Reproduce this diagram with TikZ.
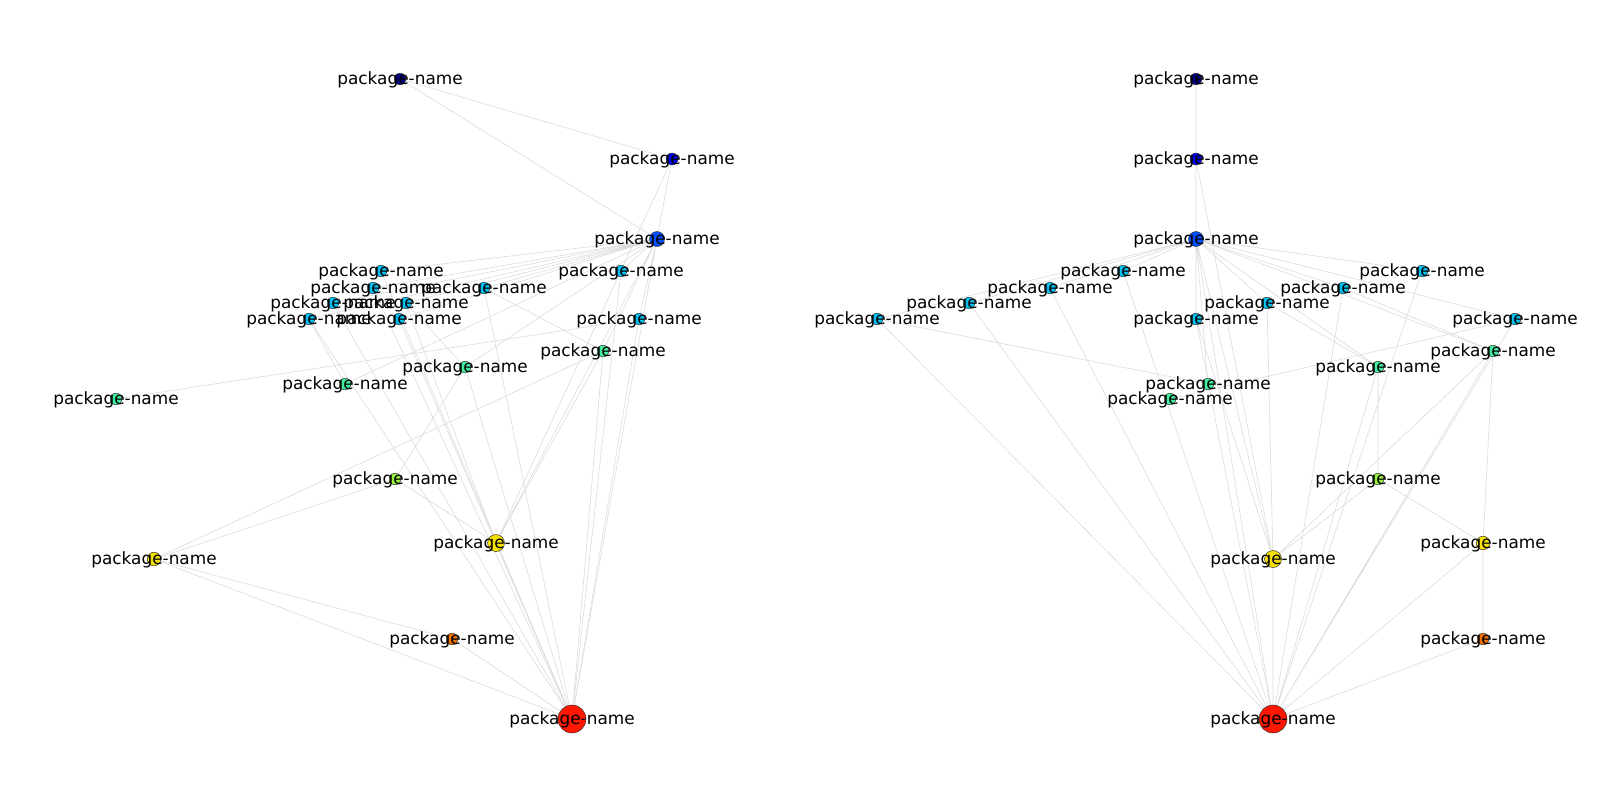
\documentclass[tikz,border=0pt]{standalone}
\usepackage{fontspec}
\newfontfamily\pkgfont{DejaVu Sans}
\usetikzlibrary{backgrounds}

\definecolor{lvlnavy}{HTML}{000080}
\definecolor{lvlblue}{HTML}{0000E6}
\definecolor{lvlroyal}{HTML}{0050FF}
\definecolor{lvlcyan}{HTML}{00C0F0}
\definecolor{lvlmint}{HTML}{40F0A0}
\definecolor{lvllime}{HTML}{96F03C}
\definecolor{lvlyellow}{HTML}{F5E100}
\definecolor{lvlorange}{HTML}{F07000}
\definecolor{lvlred}{HTML}{FF1800}

\begin{document}
\begin{tikzpicture}[
  x=0.5pt, y=-0.5pt,
  lbl/.style={font=\pkgfont\fontsize{8.45}{9}\selectfont, inner sep=0pt, yshift=-0.5pt},
  pkg/.style={circle, draw=black!80, line width=0.25pt, inner sep=0pt, minimum size=5.8pt, fill=#1, label={[lbl]center:package-name}},
  hub/.style={pkg=lvlroyal, minimum size=7.5pt},
  bigpkg/.style={pkg=lvlyellow, minimum size=8.5pt},
  midpkg/.style={pkg=lvlyellow, minimum size=6.8pt},
  root/.style={pkg=lvlred, minimum size=14pt},
  dep/.style={draw=black!14, line width=0.3pt}
]
\useasboundingbox (0,0) rectangle (1600,800);

% left layout
\node[pkg=lvlnavy] (la) at (400,79) {};
\node[pkg=lvlblue, minimum size=6pt] (lb) at (672,159) {};
\node[hub] (lc) at (657,239) {};
\node[pkg=lvlcyan] (ld1) at (381,271) {};
\node[pkg=lvlcyan] (ld2) at (621,271) {};
\node[pkg=lvlcyan] (le1) at (373,288) {};
\node[pkg=lvlcyan] (le2) at (484,288) {};
\node[pkg=lvlcyan] (lf1) at (333,303) {};
\node[pkg=lvlcyan] (lf2) at (406,303) {};
\node[pkg=lvlcyan] (lg1) at (309,319) {};
\node[pkg=lvlcyan] (lg2) at (399,319) {};
\node[pkg=lvlcyan] (lg3) at (639,319) {};
\node[pkg=lvlmint] (lh) at (603,351) {};
\node[pkg=lvlmint] (li) at (465,367) {};
\node[pkg=lvlmint] (lj) at (345,384) {};
\node[pkg=lvlmint] (lk) at (116,399) {};
\node[pkg=lvllime] (ll) at (395,479) {};
\node[bigpkg] (ln) at (496,543) {};
\node[midpkg] (lm) at (154,559) {};
\node[pkg=lvlorange] (lo) at (452,639) {};
\node[root] (lr) at (572,719) {};

% right layout
\node[pkg=lvlnavy] (ra) at (1196,79) {};
\node[pkg=lvlblue, minimum size=6pt] (rb) at (1196,159) {};
\node[hub] (rc) at (1196,239) {};
\node[pkg=lvlcyan] (rd1) at (1123,271) {};
\node[pkg=lvlcyan] (rd2) at (1422,271) {};
\node[pkg=lvlcyan] (re1) at (1050,288) {};
\node[pkg=lvlcyan] (re2) at (1343,288) {};
\node[pkg=lvlcyan] (rf1) at (969,303) {};
\node[pkg=lvlcyan] (rf2) at (1267,303) {};
\node[pkg=lvlcyan] (rg1) at (877,319) {};
\node[pkg=lvlcyan] (rg2) at (1196,319) {};
\node[pkg=lvlcyan] (rg3) at (1515,319) {};
\node[pkg=lvlmint] (rh) at (1493,351) {};
\node[pkg=lvlmint] (ri) at (1378,367) {};
\node[pkg=lvlmint] (rj) at (1208,384) {};
\node[pkg=lvlmint] (rk) at (1170,399) {};
\node[pkg=lvllime] (rl) at (1378,479) {};
\node[midpkg] (rm) at (1483,543) {};
\node[bigpkg] (rn) at (1273,559) {};
\node[pkg=lvlorange] (ro) at (1483,639) {};
\node[root] (rr) at (1273,719) {};

\begin{scope}[on background layer]
\draw[dep] (la) -- (lb) (la) -- (lc) (lb) -- (lc) (lb) -- (ln);
\draw[dep] (lc) -- (ld1) (lc) -- (le1) (lc) -- (lf1) (lc) -- (lg1) (lc) -- (lg2) (lc) -- (ld2)
  (lc) -- (le2) (lc) -- (lf2) (lc) -- (lg3) (lc) -- (lh) (lc) -- (li) (lc) -- (lj) (lc) -- (ln) (lc) -- (lr);
\draw[dep] (ld1) -- (lr) (le1) -- (lr) (lf1) -- (lr) (lg1) -- (lr) (lg1) -- (lj) (lk) -- (lg3);
\draw[dep] (le2) -- (lr) (le2) -- (lh) (ld2) -- (lr) (li) -- (lr) (li) -- (ll) (lf2) -- (ln) (lf2) -- (li);
\draw[dep] (lg2) -- (lr) (lg2) -- (ln) (lh) -- (lr) (lh) -- (lm) (lh) -- (ln) (lg3) -- (lr);
\draw[dep] (ll) -- (lm) (ll) -- (ln) (lm) -- (lr) (lm) -- (lo) (ln) -- (lr) (lo) -- (lr);

\draw[dep] (ra) -- (rb) (ra) -- (rc) (rb) -- (rc) (rb) -- (rn);
\draw[dep] (rc) -- (rd1) (rc) -- (re1) (rc) -- (rf1) (rc) -- (rg1) (rc) -- (rg2) (rc) -- (rd2)
  (rc) -- (re2) (rc) -- (rf2) (rc) -- (rg3) (rc) -- (rh) (rc) -- (ri) (rc) -- (rj) (rc) -- (rn) (rc) -- (rr);
\draw[dep] (rd1) -- (rr) (re1) -- (rr) (rf1) -- (rr) (rg1) -- (rr) (rg1) -- (rj) (rk) -- (rg3);
\draw[dep] (re2) -- (rr) (re2) -- (rh) (rd2) -- (rr) (ri) -- (rr) (ri) -- (rl) (rf2) -- (rn) (rf2) -- (ri);
\draw[dep] (rg2) -- (rr) (rg2) -- (rn) (rh) -- (rr) (rh) -- (rm) (rh) -- (rn) (rg3) -- (rr);
\draw[dep] (rl) -- (rm) (rl) -- (rn) (rm) -- (rr) (rm) -- (ro) (rn) -- (rr) (ro) -- (rr);
\end{scope}
\end{tikzpicture}
\end{document}
